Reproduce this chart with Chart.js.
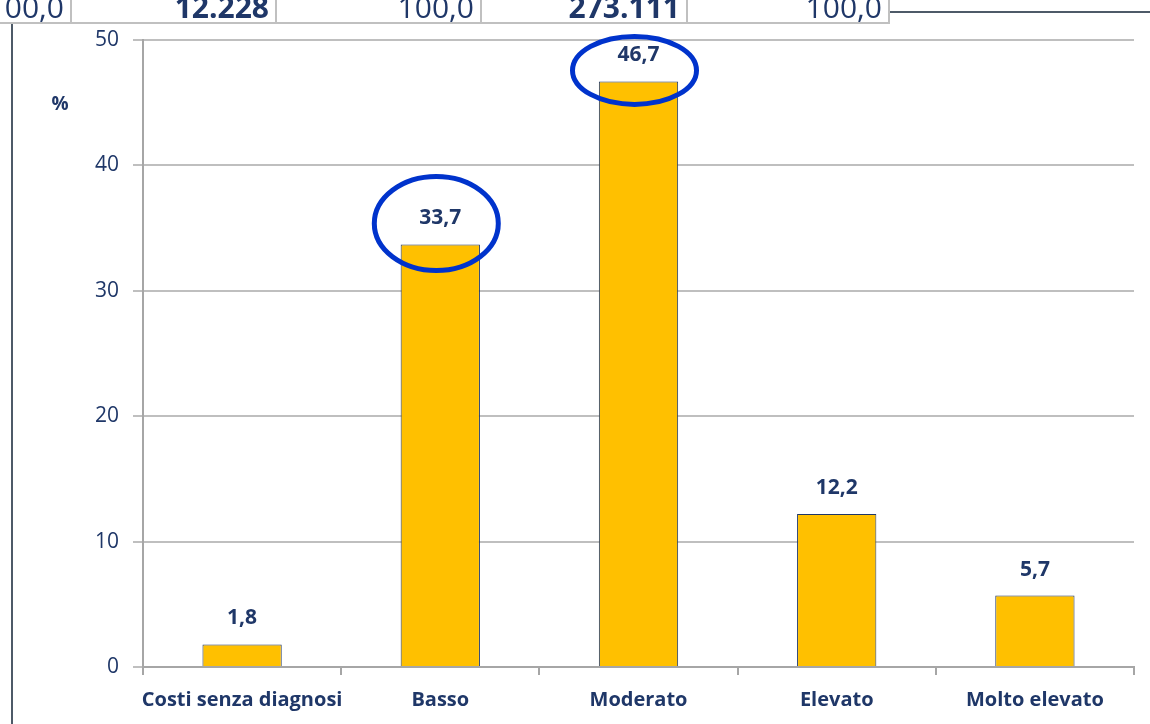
<!DOCTYPE html>
<html>
<head>
<meta charset="utf-8">
<script src="https://cdn.jsdelivr.net/npm/chart.js@4"></script>
<style>
  body { margin: 0; background: #fff; width: 1150px; height: 724px; overflow: hidden; position: relative; font-family: "Open Sans", sans-serif; }
  #wrap { position: absolute; left: 0; top: 0; width: 1150px; height: 724px; }
  .cell { position: absolute; top: -8px; height: 32px; border-right: 2px solid #c0c0c0; border-bottom: 2px solid #c0c0c0;
          box-sizing: border-box; text-align: right; padding-right: 6px; font-size: 30px; line-height: 30px; color: #1f3768; }
  .cell.b { font-weight: bold; }
  #rule { position: absolute; left: 890px; top: 11px; width: 260px; height: 2px; background: #4d5a68; }
  #side { position: absolute; left: 11px; top: 24px; width: 2px; height: 700px; background: #4d5a68; }
</style>
</head>
<body>
<div id="wrap"><canvas id="chart" width="1150" height="724"></canvas></div>
<div class="cell" style="left:-20px;width:92px">00,0</div>
<div class="cell b" style="left:72px;width:205px">12.228</div>
<div class="cell" style="left:277px;width:205px">100,0</div>
<div class="cell b" style="left:482px;width:206px">273.111</div>
<div class="cell" style="left:688px;width:202px">100,0</div>
<div id="rule"></div>
<div id="side"></div>
<script>
// Distribuzione per livello di costo (%)
const categories = ['Costi senza diagnosi', 'Basso', 'Moderato', 'Elevato', 'Molto elevato'];
const percentages = [1.8, 33.7, 46.7, 12.2, 5.7];
const yTicks = [0, 10, 20, 30, 40, 50];
const circled = [1, 2]; // bars whose value is ringed

const navy = '#1f3768';

// value labels above each bar
const barLabels = {
    id: 'barLabels',
    afterDatasetsDraw(chart) {
        const ctx = chart.ctx;
        const meta = chart.getDatasetMeta(0);
        ctx.save();
        ctx.fillStyle = navy;
        ctx.font = 'bold 21px "Open Sans"';
        ctx.textAlign = 'center';
        ctx.textBaseline = 'middle';
        meta.data.forEach((bar, i) => {
            ctx.fillText(percentages[i].toFixed(1).replace('.', ','), bar.x, bar.y - 26);
        });
        ctx.restore();
    }
};

// blue rings around highlighted values
const rings = {
    id: 'rings',
    afterDraw(chart) {
        const ctx = chart.ctx;
        const meta = chart.getDatasetMeta(0);
        ctx.save();
        ctx.strokeStyle = '#0033cc';
        ctx.lineWidth = 5;
        circled.forEach(i => {
            const bar = meta.data[i];
            const ry = i === 2 ? 34 : 47;
            const dy = i === 2 ? 11 : 21;
            ctx.beginPath();
            ctx.ellipse(bar.x - 4, bar.y - dy, 62, ry, 0, 0, Math.PI * 2);
            ctx.stroke();
        });
        ctx.restore();
    }
};

// "%" unit near the y axis
const unitLabel = {
    id: 'unitLabel',
    afterDraw(chart) {
        const ctx = chart.ctx;
        ctx.save();
        ctx.fillStyle = navy;
        ctx.font = 'bold 19px "Open Sans"';
        ctx.textAlign = 'center';
        ctx.textBaseline = 'middle';
        ctx.fillText('%', 60, 105);
        ctx.restore();
    }
};

new Chart(document.getElementById('chart'), {
    type: 'bar',
    data: {
        labels: categories,
        datasets: [{
            data: percentages,
            backgroundColor: '#ffc000',
            borderColor: '#1f3768',
            borderWidth: 1,
            barPercentage: 0.4,
            categoryPercentage: 1.0
        }]
    },
    options: {
        responsive: false,
        animation: false,
        layout: { padding: { top: 40, right: 16, left: 0, bottom: 0 } },
        plugins: { legend: { display: false }, tooltip: { enabled: false } },
        scales: {
            x: {
                grid: { offset: true, drawOnChartArea: false, color: '#a6a6a6', tickLength: 8, lineWidth: 2 },
                border: { color: '#a6a6a6', width: 2 },
                ticks: { color: navy, font: { family: 'Open Sans', size: 20, weight: 'bold' }, padding: 13, maxRotation: 0, autoSkip: false },
                afterFit(scale) { scale.height = 57; }
            },
            y: {
                min: 0,
                max: 50,
                afterBuildTicks(scale) { scale.ticks = yTicks.map(v => ({ value: v })); },
                grid: { color: '#bfbfbf', tickLength: 10, lineWidth: 2 },
                border: { color: '#a6a6a6', width: 2 },
                ticks: { color: navy, font: { family: 'Open Sans', size: 21 }, padding: 14 },
                afterFit(scale) { scale.width = 143; }
            }
        }
    },
    plugins: [barLabels, rings, unitLabel]
});
</script>
</body>
</html>
